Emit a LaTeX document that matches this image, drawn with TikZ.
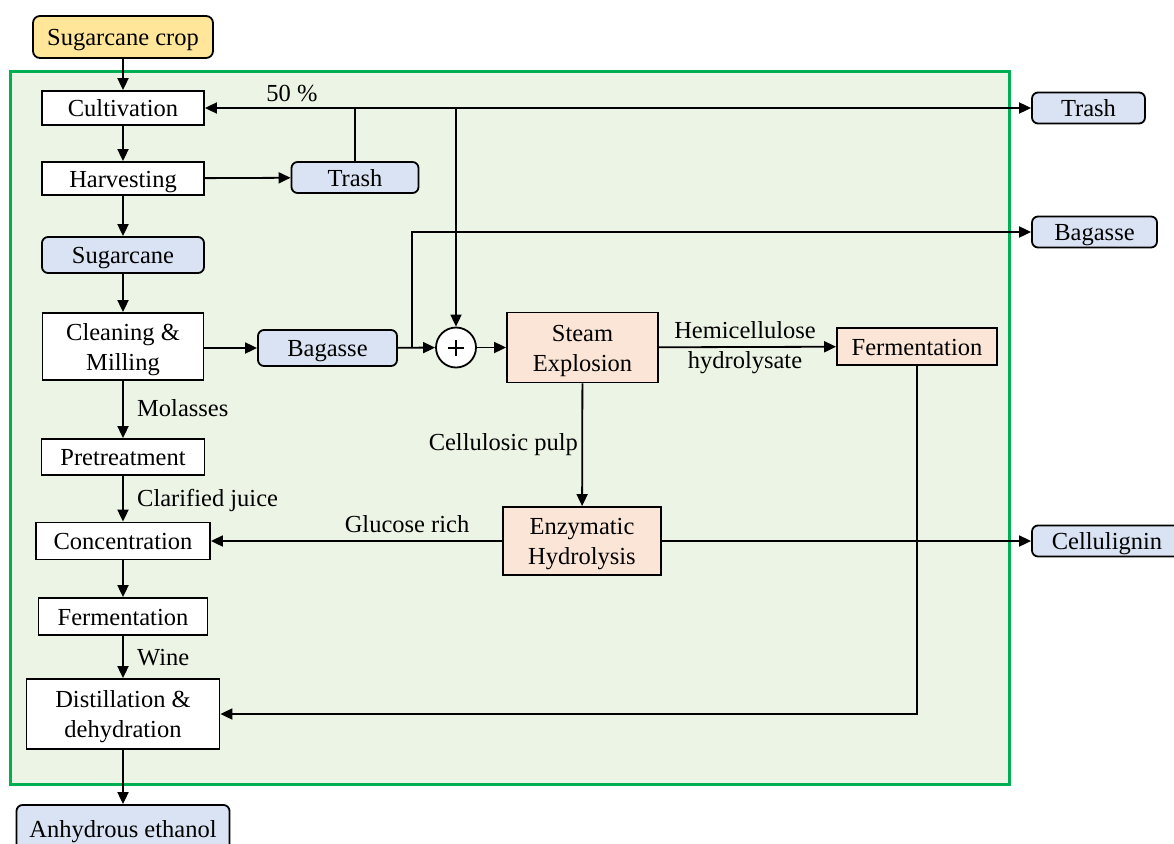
\documentclass[tikz,border=0pt]{standalone}
\usepackage{fontspec}
\IfFontExistsTF{LiberationSerif-Regular.ttf}
  {\newfontfamily\tnr{LiberationSerif-Regular.ttf}}
  {\newfontfamily\tnr{Liberation Serif}}
\usetikzlibrary{arrows.meta}
\definecolor{frameg}{HTML}{00B050}
\definecolor{bgg}{HTML}{ECF4E5}
\definecolor{blu}{HTML}{DAE3F3}
\definecolor{ora}{HTML}{FBE5D6}
\definecolor{yel}{HTML}{FFE699}
\newcommand{\fstrut}{\rule{0pt}{23pt}}
\begin{document}
\begin{tikzpicture}[x=1pt,y=-1pt,
  every node/.style={font=\tnr\fontsize{24.5}{30}\selectfont, align=center, inner sep=0pt},
  base/.style={draw=black, line width=1.8pt, minimum width=#1},
  one/.style={text height=22pt, text depth=4.5pt},
  wbox/.style={base=#1, fill=white},
  bbox/.style={base=#1, fill=blu, rounded corners=6pt},
  obox/.style={base=#1, fill=ora},
  ybox/.style={base=#1, fill=yel, rounded corners=7pt},
  arr/.style={line width=1.8pt, -{Triangle[length=12pt,width=11pt]}},
  ln/.style={line width=1.8pt},
  lbl/.style={font=\tnr\fontsize{24.5}{30}\selectfont}
]
\useasboundingbox (0,0) rectangle (1174,843);
\fill[white] (0,0) rectangle (1174,843);
\draw[frameg, fill=bgg, line width=3pt] (10,71) rectangle (1009,784);

% left column
\node[ybox=180, one, minimum height=42] (crop) at (123,37) {Sugarcane crop};
\node[wbox=162, one, minimum height=34] (cult) at (123,108) {Cultivation};
\node[wbox=162, one, minimum height=33] (harv) at (123,178.5) {Harvesting};
\node[bbox=162, one, minimum height=36] (sugar) at (123,255) {Sugarcane};
\node[wbox=161, minimum height=67] (clean) at (123,346.5) {\fstrut Cleaning \&\\Milling};
\node[wbox=163, one, minimum height=36] (pre) at (123,457) {Pretreatment};
\node[wbox=174, one, minimum height=37] (conc) at (123,541) {Concentration};
\node[wbox=169, one, minimum height=37] (ferm1) at (123,616.5) {Fermentation};
\node[wbox=193, minimum height=70] (dist) at (123,714) {\fstrut Distillation \&\\dehydration};
\node[bbox=213, one, minimum height=48] (eth) at (123,829) {Anhydrous ethanol};

% middle
\node[bbox=127, one, minimum height=31] (trash1) at (355,177.5) {Trash};
\node[bbox=139, one, minimum height=36] (bag1) at (327.5,348) {Bagasse};
\node[circle, draw=black, fill=white, line width=1.8pt, minimum size=40] (plus) at (456,347.5) {};
\draw[line width=2pt] ([xshift=-8pt]plus.center) -- ([xshift=8pt]plus.center)
  ([yshift=-8pt]plus.center) -- ([yshift=8pt]plus.center);
\node[obox=151, minimum height=70] (steam) at (582.5,347.5) {\fstrut Steam\\Explosion};
\node[obox=160, one, minimum height=37] (ferm2) at (917,346.5) {Fermentation};
\node[obox=158, minimum height=68] (enz) at (582,541) {\fstrut Enzymatic\\Hydrolysis};

% right outputs
\node[bbox=113, one, minimum height=31] (trash2) at (1088.5,108) {Trash};
\node[bbox=125, one, minimum height=31] (bag2) at (1094.5,232) {Bagasse};
\node[bbox=150, one, minimum height=31] (cellu) at (1107,541) {Cellulignin};

\coordinate (j1) at (355,108);
\coordinate (j2) at (456,108);
\coordinate (b1) at (412,347.5);

% left column arrows
\draw[arr] (crop) -- (cult);
\draw[arr] (cult) -- (harv);
\draw[arr] (harv) -- (sugar);
\draw[arr] (sugar) -- (clean);
\draw[arr] (clean) -- (pre);
\draw[arr] (pre) -- (conc);
\draw[arr] (conc) -- (ferm1);
\draw[arr] (ferm1) -- (dist);
\draw[arr] (dist) -- (eth);

% trash
\draw[arr] (harv) -- (trash1);
\draw[ln] (trash1.north) -- (j1);
\draw[arr] (j1) -- (cult);
\draw[arr] (j1) -- (trash2);
\draw[arr] (j2) -- (plus);

% bagasse
\draw[arr] (clean.east |- bag1) -- (bag1);
\draw[arr] (bag1) -- (plus);
\draw[arr] (b1) |- (bag2);

\draw[arr] (plus) -- (steam);
\draw[arr] (steam) -- (ferm2);
\draw[arr] (steam) -- (enz);
\draw[arr] (enz) -- (conc);
\draw[arr] (enz) -- (cellu);
\draw[arr] (ferm2.south) |- (dist.east);

% labels
\node[lbl] (l50) at (292,94) {50 \%};
\node[lbl, anchor=west] (lmol) at (137,408) {Molasses};
\node[lbl, anchor=west] (lcla) at (137,500) {Clarified juice};
\node[lbl, anchor=west] (lwin) at (137,658) {Wine};
\node[lbl] (lglu) at (407,524) {Glucose rich};
\node[lbl, anchor=east] (lcel) at (578,445) {Cellulosic pulp};
\node[lbl] (lhem) at (745,348) {Hemicellulose\\hydrolysate};
\end{tikzpicture}
\end{document}
